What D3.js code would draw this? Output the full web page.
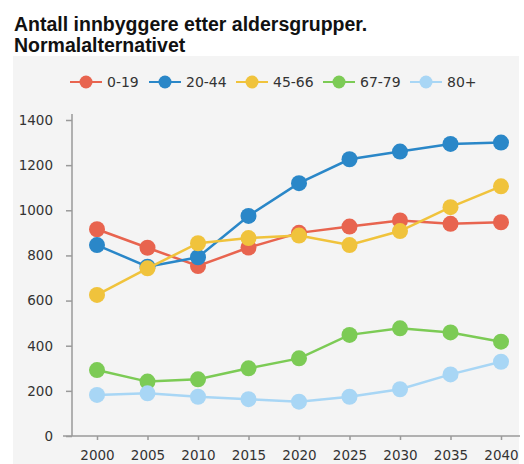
<!DOCTYPE html>
<html><head><meta charset="utf-8">
<script src="https://cdn.jsdelivr.net/npm/d3@7"></script>
<style>body{margin:0;background:#fff}svg{display:block}</style>
</head><body>
<script>
const years = [2000, 2005, 2010, 2015, 2020, 2025, 2030, 2035, 2040];
const seriesNames = ["0-19", "20-44", "45-66", "67-79", "80+"];
const v0_19  = [916, 834, 753, 835, 900, 928, 955, 940, 947];
const v20_44 = [846, 750, 792, 975, 1120, 1226, 1260, 1294, 1300];
const v45_66 = [625, 743, 854, 877, 888, 846, 908, 1014, 1106];
const v67_79 = [292, 241, 251, 300, 344, 448, 477, 459, 418];
const v80    = [182, 189, 174, 163, 152, 174, 207, 273, 329];
const yTicks = [0, 200, 400, 600, 800, 1000, 1200, 1400];
const colors = ["#e8644f", "#2a87c8", "#f0c33c", "#7ccb55", "#a8d6f5"];
const titleLines = ["Antall innbyggere etter aldersgrupper.", "Normalalternativet"];

const allValues = [v0_19, v20_44, v45_66, v67_79, v80];
const W = 524, H = 464;
const svg = d3.select("body").append("svg").attr("width", W).attr("height", H);
const font = "'Liberation Sans', Arial, sans-serif";
const font2 = "'DejaVu Sans', Verdana, sans-serif";

svg.append("rect").attr("x", 13).attr("y", 56).attr("width", 506).attr("height", H - 56).attr("fill", "#f4f4f4");

svg.selectAll("text.title").data(titleLines).join("text")
  .attr("x", 14).attr("y", (d, i) => 31 + i * 21)
  .attr("font-family", font).attr("font-weight", "bold").attr("font-size", 19.5)
  .attr("fill", "#111").text(d => d);

const x = d3.scaleLinear().domain([2000, 2040]).range([97, 501]);
const y = d3.scaleLinear().domain([0, 1400]).range([436, 120]);

// axes
const yAxis = svg.append("g").attr("transform", "translate(72,0)")
  .call(d3.axisLeft(y).tickValues(yTicks).tickSize(6).tickPadding(13).tickFormat(d3.format("d")));
yAxis.select(".domain").attr("d", "M0,114V436");
const xAxis = svg.append("g").attr("transform", "translate(0,436)")
  .call(d3.axisBottom(x).tickValues(years).tickSize(4).tickPadding(10).tickFormat(d3.format("d")));
xAxis.select(".domain").attr("d", "M63,0H520");
svg.selectAll(".domain, .tick line").attr("stroke", "#9a9a9a").attr("stroke-width", 1.5);
svg.selectAll(".tick text").attr("font-family", font2).attr("font-size", 13.5).attr("fill", "#333");

const line = d3.line().x((d, i) => x(years[i])).y(d => y(d));
allValues.forEach((vals, si) => {
  const g = svg.append("g");
  g.append("path").attr("d", line(vals)).attr("fill", "none")
    .attr("stroke", colors[si]).attr("stroke-width", 2.5);
  g.selectAll("circle").data(vals).join("circle")
    .attr("cx", (d, i) => x(years[i])).attr("cy", d => y(d)).attr("r", 8)
    .attr("fill", colors[si]);
});

// legend
const legendX = [70, 149, 236, 323, 410];
const lg = svg.append("g");
seriesNames.forEach((n, i) => {
  const lx = legendX[i];
  lg.append("line").attr("x1", lx).attr("x2", lx + 32).attr("y1", 82).attr("y2", 82)
    .attr("stroke", colors[i]).attr("stroke-width", 2);
  lg.append("circle").attr("cx", lx + 16).attr("cy", 82).attr("r", 6.5).attr("fill", colors[i]);
  lg.append("text").attr("x", lx + 37).attr("y", 87).attr("font-family", font2)
    .attr("font-size", 14).attr("fill", "#333").text(n);
});
</script>
</body></html>
